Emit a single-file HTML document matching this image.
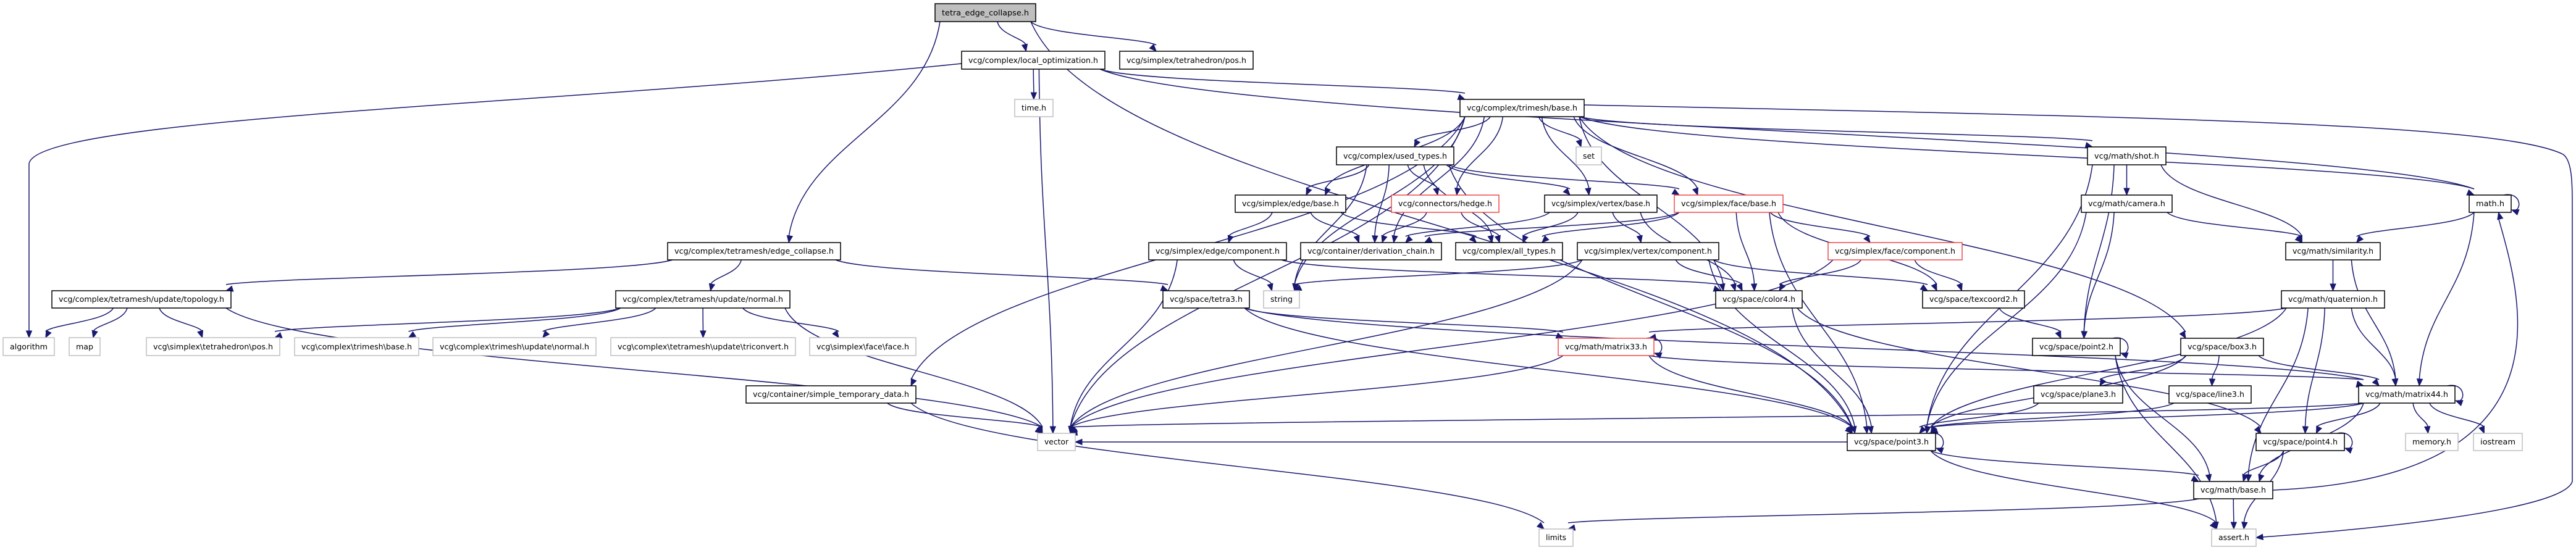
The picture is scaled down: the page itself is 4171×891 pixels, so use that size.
<!DOCTYPE html>
<html><head><meta charset="utf-8">
<style>
html,body{margin:0;padding:0;background:#fff;}
svg{display:block;}
text{font-family:"DejaVu Sans","Liberation Sans",sans-serif;font-size:12px;fill:#000;}
</style></head>
<body>
<svg id="s" width="4171" height="891" viewBox="0 0 4171 891" xmlns="http://www.w3.org/2000/svg">
<g id="edges" fill="none" stroke="#191970" stroke-width="1.5"></g>
<g id="arrows" fill="#191970" stroke="#191970" stroke-width="1"></g>
<g id="nodes" stroke-width="1.5">
<g id="tec"><rect x="1514" y="6" width="163" height="29" fill="#bfbfbf" stroke="#000"/><text x="1595.5" y="25" text-anchor="middle">tetra_edge_collapse.h</text></g>
<g id="lo"><rect x="1557" y="83" width="232" height="29" fill="#fff" stroke="#000"/><text x="1673" y="102" text-anchor="middle">vcg/complex/local_optimization.h</text></g>
<g id="tpos"><rect x="1813" y="83" width="216" height="29" fill="#fff" stroke="#000"/><text x="1921" y="102" text-anchor="middle">vcg/simplex/tetrahedron/pos.h</text></g>
<g id="ec"><rect x="1081" y="393" width="280" height="28" fill="#fff" stroke="#000"/><text x="1221" y="411" text-anchor="middle">vcg/complex/tetramesh/edge_collapse.h</text></g>
<g id="time"><rect x="1643" y="161" width="62" height="28" fill="#fff" stroke="#bfbfbf"/><text x="1674" y="179" text-anchor="middle">time.h</text></g>
<g id="tb"><rect x="2364" y="161" width="201" height="28" fill="#fff" stroke="#000"/><text x="2464.5" y="179" text-anchor="middle">vcg/complex/trimesh/base.h</text></g>
<g id="ut"><rect x="2164" y="238" width="190" height="29" fill="#fff" stroke="#000"/><text x="2259" y="257" text-anchor="middle">vcg/complex/used_types.h</text></g>
<g id="set"><rect x="2552" y="238" width="41" height="29" fill="#fff" stroke="#bfbfbf"/><text x="2572.5" y="257" text-anchor="middle">set</text></g>
<g id="eb"><rect x="2000" y="316" width="179" height="28" fill="#fff" stroke="#000"/><text x="2089.5" y="334" text-anchor="middle">vcg/simplex/edge/base.h</text></g>
<g id="hedge"><rect x="2253" y="316" width="174" height="28" fill="#fff" stroke="#f04848"/><text x="2340" y="334" text-anchor="middle">vcg/connectors/hedge.h</text></g>
<g id="vb"><rect x="2501" y="316" width="182" height="28" fill="#fff" stroke="#000"/><text x="2592" y="334" text-anchor="middle">vcg/simplex/vertex/base.h</text></g>
<g id="fb"><rect x="2711" y="316" width="176" height="28" fill="#fff" stroke="#f04848"/><text x="2799" y="334" text-anchor="middle">vcg/simplex/face/base.h</text></g>
<g id="shot"><rect x="3380" y="238" width="127" height="29" fill="#fff" stroke="#000"/><text x="3443.5" y="257" text-anchor="middle">vcg/math/shot.h</text></g>
<g id="cam"><rect x="3370" y="316" width="147" height="28" fill="#fff" stroke="#000"/><text x="3443.5" y="334" text-anchor="middle">vcg/math/camera.h</text></g>
<g id="mathh"><rect x="3998" y="316" width="68" height="28" fill="#fff" stroke="#000"/><text x="4032" y="334" text-anchor="middle">math.h</text></g>
<g id="ecomp"><rect x="1860" y="393" width="223" height="28" fill="#fff" stroke="#000"/><text x="1971.5" y="411" text-anchor="middle">vcg/simplex/edge/component.h</text></g>
<g id="dc"><rect x="2106" y="393" width="228" height="28" fill="#fff" stroke="#000"/><text x="2220" y="411" text-anchor="middle">vcg/container/derivation_chain.h</text></g>
<g id="at"><rect x="2357" y="393" width="173" height="28" fill="#fff" stroke="#000"/><text x="2443.5" y="411" text-anchor="middle">vcg/complex/all_types.h</text></g>
<g id="vc"><rect x="2554" y="393" width="229" height="28" fill="#fff" stroke="#000"/><text x="2668.5" y="411" text-anchor="middle">vcg/simplex/vertex/component.h</text></g>
<g id="fc"><rect x="2960" y="393" width="217" height="28" fill="#fff" stroke="#f04848"/><text x="3068.5" y="411" text-anchor="middle">vcg/simplex/face/component.h</text></g>
<g id="sim"><rect x="3701" y="393" width="153" height="28" fill="#fff" stroke="#000"/><text x="3777.5" y="411" text-anchor="middle">vcg/math/similarity.h</text></g>
<g id="topo"><rect x="84" y="471" width="290" height="28" fill="#fff" stroke="#000"/><text x="229" y="489" text-anchor="middle">vcg/complex/tetramesh/update/topology.h</text></g>
<g id="norm"><rect x="997" y="471" width="282" height="28" fill="#fff" stroke="#000"/><text x="1138" y="489" text-anchor="middle">vcg/complex/tetramesh/update/normal.h</text></g>
<g id="t3"><rect x="1883" y="471" width="140" height="28" fill="#fff" stroke="#000"/><text x="1953" y="489" text-anchor="middle">vcg/space/tetra3.h</text></g>
<g id="str"><rect x="2046" y="471" width="58" height="28" fill="#fff" stroke="#bfbfbf"/><text x="2075" y="489" text-anchor="middle">string</text></g>
<g id="col"><rect x="2778" y="471" width="140" height="28" fill="#fff" stroke="#000"/><text x="2848" y="489" text-anchor="middle">vcg/space/color4.h</text></g>
<g id="tex"><rect x="3113" y="471" width="165" height="28" fill="#fff" stroke="#000"/><text x="3195.5" y="489" text-anchor="middle">vcg/space/texcoord2.h</text></g>
<g id="quat"><rect x="3694" y="471" width="167" height="28" fill="#fff" stroke="#000"/><text x="3777.5" y="489" text-anchor="middle">vcg/math/quaternion.h</text></g>
<g id="alg"><rect x="5" y="547" width="83" height="29" fill="#fff" stroke="#bfbfbf"/><text x="46.5" y="566" text-anchor="middle">algorithm</text></g>
<g id="map"><rect x="112" y="547" width="50" height="29" fill="#fff" stroke="#bfbfbf"/><text x="137" y="566" text-anchor="middle">map</text></g>
<g id="tpos2"><rect x="237" y="547" width="216" height="29" fill="#fff" stroke="#bfbfbf"/><text x="345" y="566" text-anchor="middle">vcg\simplex\tetrahedron\pos.h</text></g>
<g id="tmb"><rect x="477" y="547" width="201" height="29" fill="#fff" stroke="#bfbfbf"/><text x="577.5" y="566" text-anchor="middle">vcg\complex\trimesh\base.h</text></g>
<g id="tun"><rect x="701" y="547" width="264" height="29" fill="#fff" stroke="#bfbfbf"/><text x="833" y="566" text-anchor="middle">vcg\complex\trimesh\update\normal.h</text></g>
<g id="tri"><rect x="989" y="547" width="299" height="29" fill="#fff" stroke="#bfbfbf"/><text x="1138.5" y="566" text-anchor="middle">vcg\complex\tetramesh\update\triconvert.h</text></g>
<g id="ff"><rect x="1311" y="547" width="172" height="29" fill="#fff" stroke="#bfbfbf"/><text x="1397" y="566" text-anchor="middle">vcg\simplex\face\face.h</text></g>
<g id="m33"><rect x="2523" y="548" width="155" height="28" fill="#fff" stroke="#f04848"/><text x="2600.5" y="566" text-anchor="middle">vcg/math/matrix33.h</text></g>
<g id="p2"><rect x="3291" y="548" width="142" height="28" fill="#fff" stroke="#000"/><text x="3362" y="566" text-anchor="middle">vcg/space/point2.h</text></g>
<g id="box3"><rect x="3531" y="548" width="134" height="28" fill="#fff" stroke="#000"/><text x="3598" y="566" text-anchor="middle">vcg/space/box3.h</text></g>
<g id="std"><rect x="1208" y="625" width="275" height="28" fill="#fff" stroke="#000"/><text x="1345.5" y="643" text-anchor="middle">vcg/container/simple_temporary_data.h</text></g>
<g id="pl3"><rect x="3293" y="625" width="144" height="28" fill="#fff" stroke="#000"/><text x="3365" y="643" text-anchor="middle">vcg/space/plane3.h</text></g>
<g id="l3"><rect x="3512" y="625" width="133" height="28" fill="#fff" stroke="#000"/><text x="3578.5" y="643" text-anchor="middle">vcg/space/line3.h</text></g>
<g id="m44"><rect x="3819" y="625" width="156" height="28" fill="#fff" stroke="#000"/><text x="3897" y="643" text-anchor="middle">vcg/math/matrix44.h</text></g>
<g id="vec"><rect x="1680" y="702" width="61" height="28" fill="#fff" stroke="#bfbfbf"/><text x="1710.5" y="720" text-anchor="middle">vector</text></g>
<g id="p3"><rect x="2991" y="702" width="143" height="28" fill="#fff" stroke="#000"/><text x="3062.5" y="720" text-anchor="middle">vcg/space/point3.h</text></g>
<g id="p4"><rect x="3653" y="702" width="143" height="28" fill="#fff" stroke="#000"/><text x="3724.5" y="720" text-anchor="middle">vcg/space/point4.h</text></g>
<g id="mem"><rect x="3895" y="702" width="85" height="28" fill="#fff" stroke="#bfbfbf"/><text x="3937.5" y="720" text-anchor="middle">memory.h</text></g>
<g id="ios"><rect x="4005" y="702" width="79" height="28" fill="#fff" stroke="#bfbfbf"/><text x="4044.5" y="720" text-anchor="middle">iostream</text></g>
<g id="mb"><rect x="3552" y="780" width="128" height="28" fill="#fff" stroke="#000"/><text x="3616" y="798" text-anchor="middle">vcg/math/base.h</text></g>
<g id="lim"><rect x="2492" y="857" width="55" height="28" fill="#fff" stroke="#bfbfbf"/><text x="2519.5" y="875" text-anchor="middle">limits</text></g>
<g id="as"><rect x="3581" y="857" width="72" height="28" fill="#fff" stroke="#bfbfbf"/><text x="3617" y="875" text-anchor="middle">assert.h</text></g>
</g>
</svg>
<script>
(function(){
var NS="http://www.w3.org/2000/svg";
function box(id){var r=document.querySelector('#'+id+' rect');
 var x=+r.getAttribute('x'),y=+r.getAttribute('y'),w=+r.getAttribute('width'),h=+r.getAttribute('height');
 return {x:x,y:y,w:w,h:h,cx:x+w/2,cy:y+h/2};}
document.querySelectorAll('#nodes g').forEach(function(g){
 var r=g.querySelector('rect'),t=g.querySelector('text');var w=+r.getAttribute('width');
 t.setAttribute('textLength',w-22);t.setAttribute('lengthAdjust','spacingAndGlyphs');
});
var E=[
['tec','lo'],['tec','tpos'],['tec','ec'],['tec','p3'],
['lo','time'],['lo','tb'],['lo','vec'],['lo','mathh'],
['ec','topo'],['ec','norm'],['ec','t3'],
['topo','alg'],['topo','map'],['topo','tpos2'],['topo','vec'],
['norm','tpos2'],['norm','tmb'],['norm','tun'],['norm','tri'],['norm','ff'],['norm','vec'],
['tb','ut'],['tb','set'],['tb','str'],['tb','vec'],['tb','eb'],['tb','hedge'],['tb','vb'],['tb','fb'],['tb','dc'],['tb','col'],['tb','shot'],['tb','box3'],['tb','std'],['tb','mathh'],
['ut','eb'],['ut','hedge'],['ut','vb'],['ut','fb'],['ut','dc'],['ut','at'],['ut','str'],['ut','p3'],
['eb','ecomp'],['eb','dc'],['eb','at'],
['hedge','dc'],['hedge','at'],
['vb','dc'],['vb','at'],['vb','vc'],['vb','col'],
['fb','dc'],['fb','at'],['fb','fc'],['fb','col'],['fb','tex'],['fb','p3'],
['ecomp','vec'],['ecomp','str'],['ecomp','col'],
['vc','str'],['vc','vec'],['vc','col'],['vc','tex'],['vc','p3'],
['fc','col'],['fc','tex'],['fc','vec'],
['col','p3'],['col','p4'],['tex','p2'],
['t3','p3'],['t3','m33'],['t3','m44'],
['m33','m33'],['m33','p3'],['m33','vec'],['m33','m44'],
['std','vec'],['std','lim'],
['shot','cam'],['shot','sim'],['shot','p2'],['shot','p3'],
['cam','sim'],['cam','p2'],['cam','p3'],
['mathh','mathh'],['mathh','sim'],['mathh','m44'],
['sim','quat'],['sim','m44'],
['quat','p3'],['quat','p4'],['quat','m44'],['quat','mb'],['quat','m33'],
['p2','p2'],['p2','mb'],['p2','as'],
['box3','pl3'],['box3','l3'],['box3','p3'],['box3','m44'],
['pl3','p3'],['l3','p3'],
['m44','m44'],['m44','p3'],['m44','vec'],['m44','p4'],['m44','mb'],['m44','mem'],['m44','ios'],
['p3','p3'],['p3','mb'],['p3','as'],['p3','vec'],
['p4','p4'],['p4','mb'],['p4','as'],
['mb','mathh'],['mb','lim'],['mb','as']
];
var eg=document.getElementById('edges'),ag=document.getElementById('arrows');
function arrow(x,y,dx,dy){var l=Math.sqrt(dx*dx+dy*dy)||1;dx/=l;dy/=l;var L=11,W=4.5;
 var bx=x-dx*L,by=y-dy*L;var p=document.createElementNS(NS,'polygon');
 p.setAttribute('points',x+','+y+' '+(bx-dy*W)+','+(by+dx*W)+' '+(bx+dy*W)+','+(by-dx*W));ag.appendChild(p);}
function path(d){var p=document.createElementNS(NS,'path');p.setAttribute('d',d);eg.appendChild(p);}
function clamp(v,a,b){return Math.max(a,Math.min(b,v));}
// special long routes
path('M1557,103 C900,170 60,190 47,265 L47,536');arrow(47,547,0,1);
path('M2565,170 C3500,190 4050,200 4150,250 C4165,260 4165,300 4165,330 L4165,780 C4150,830 3800,860 3664,870');arrow(3653,871,-1,0.1);
E.forEach(function(e){var s=box(e[0]),t=box(e[1]);
 if(e[0]===e[1]){var x=s.x+s.w,y2=s.y+s.h-4;
  path('M'+(x-12)+','+s.y+' C'+(x+18)+','+(s.y-6)+' '+(x+18)+','+(y2+4)+' '+(x+2)+','+(y2+1));
  arrow(x+1,y2,-8,-3);return;}
 var sb=s.y+s.h,tt=t.y;
 if(tt>sb+2){
  var sx=clamp(s.cx+(t.cx-s.cx)*0.25,s.x+8,s.x+s.w-8);
  var tx=clamp(t.cx+(s.cx-t.cx)*0.15,t.x+8,t.x+t.w-8);
  var ey=tt;var dy=tt-sb;
  var c1y=sb+dy*0.45,c2y=tt-dy*0.45;
  var c1x=sx+(tx-sx)*0.1,c2x=tx-(tx-sx)*0.1;
  path('M'+sx+','+sb+' C'+c1x+','+c1y+' '+c2x+','+c2y+' '+tx+','+(ey-10));
  arrow(tx,ey,tx-c2x,ey-c2y);
 } else if(t.y+t.h<s.y-2){
  var sx2=s.x+s.w,sy2=s.cy,tx2=t.cx+t.w*0.2,ty2=t.y+t.h;
  path('M'+sx2+','+sy2+' C'+(tx2+120)+','+(sy2-20)+' '+(tx2+40)+','+(ty2+150)+' '+tx2+','+(ty2+10));
  arrow(tx2,ty2,-10,-40);
 } else {
  var fromLeft=t.cx<s.cx;var sx3=fromLeft?s.x:s.x+s.w,tx3=fromLeft?t.x+t.w:t.x;
  path('M'+sx3+','+s.cy+' C'+((sx3+tx3)/2)+','+s.cy+' '+((sx3+tx3)/2)+','+t.cy+' '+(tx3+(fromLeft?10:-10))+','+t.cy);
  arrow(tx3,t.cy,fromLeft?-1:1,0);
 }
});
})();
</script>
</body></html>
